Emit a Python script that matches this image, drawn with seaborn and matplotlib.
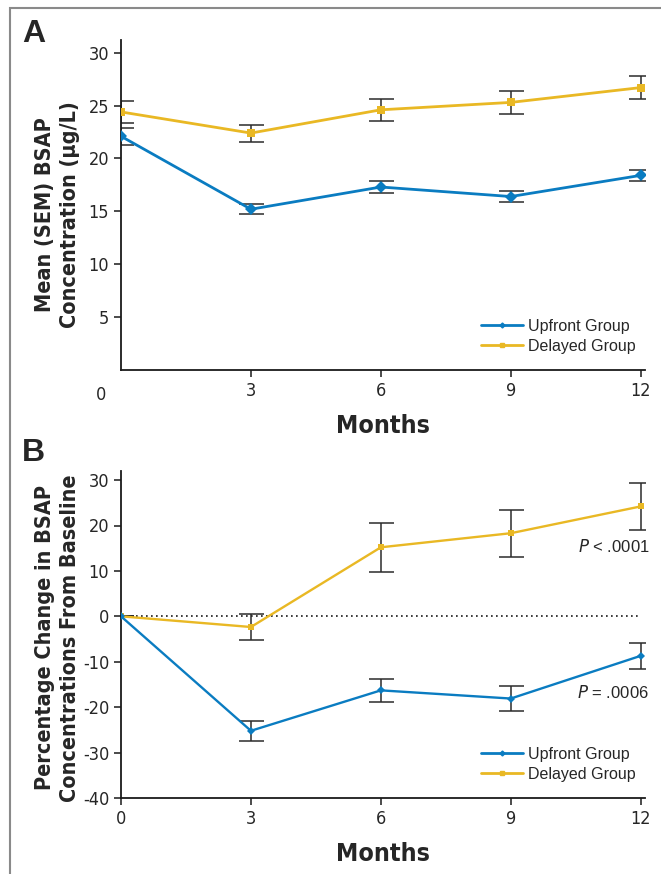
import numpy as np
import pandas as pd
import matplotlib
matplotlib.use("Agg")
import matplotlib.pyplot as plt
import seaborn as sns
from matplotlib import font_manager
from matplotlib.lines import Line2D
from matplotlib.patches import Rectangle

# data
months = [0, 3, 6, 9, 12]

a_upfront = [22.1, 15.2, 17.3, 16.4, 18.4]
a_upfront_sem = [0.8, 0.45, 0.55, 0.55, 0.5]
a_delayed = [24.4, 22.4, 24.6, 25.3, 26.7]
a_delayed_sem = [1.0, 0.8, 1.05, 1.05, 1.05]

b_upfront = [0, -25.2, -16.3, -18.1, -8.7]
b_upfront_sem = [0, 2.25, 2.5, 2.75, 2.9]
b_delayed = [0, -2.35, 15.2, 18.3, 24.2]
b_delayed_sem = [0, 2.95, 5.4, 5.2, 5.25]

group_names = ["Upfront Group", "Delayed Group"]

BLUE = "#0a7cc1"
YELLOW = "#e9b824"
ERR = "#2b2b2b"

sns.set_style("ticks")
plt.rcParams["font.family"] = ["Liberation Sans", "DejaVu Sans"]
plt.rcParams["axes.unicode_minus"] = False

# condensed face for ticks and axis titles
cond = font_manager.FontProperties(family="DejaVu Sans", stretch="condensed")
cond_b = font_manager.FontProperties(family="DejaVu Sans", stretch="condensed", weight="bold")

fig = plt.figure(figsize=(6.61, 8.74), dpi=100)
axA = fig.add_axes([121 / 661, 1 - 370 / 874, 524 / 661, 330 / 874])
axB = fig.add_axes([121 / 661, 1 - 798 / 874, 524 / 661, 327 / 874])

# frame round the figure
fig.patches.append(Rectangle((10 / 661, -0.1), 1.2, 1.1 - 8 / 874, transform=fig.transFigure,
                             fill=False, edgecolor="#8a8a8a", lw=1.5, zorder=0))


def style_ticks(ax):
    for lab in ax.get_xticklabels() + ax.get_yticklabels():
        lab.set_fontproperties(cond)
        lab.set_fontsize(13)


def draw_panel(ax, up, up_sem, de, de_sem, lw, ms_up, ms_de):
    df = pd.DataFrame({
        "month": months * 2,
        "value": up + de,
        "group": [group_names[0]] * 5 + [group_names[1]] * 5,
    })
    for vals, sem in [(de, de_sem), (up, up_sem)]:
        ax.errorbar(months, vals, yerr=sem, fmt="none", ecolor=ERR, elinewidth=1.1,
                    capsize=9, capthick=1.1, zorder=2)
    sns.lineplot(data=df[df.group == group_names[1]], x="month", y="value", ax=ax,
                 color=YELLOW, lw=lw, marker="s", markersize=ms_de, markeredgewidth=0,
                 legend=False, zorder=3)
    sns.lineplot(data=df[df.group == group_names[0]], x="month", y="value", ax=ax,
                 color=BLUE, lw=lw, marker="D", markersize=ms_up, markeredgewidth=0,
                 legend=False, zorder=4)
    for s in ["top", "right"]:
        ax.spines[s].set_visible(False)
    for s in ["left", "bottom"]:
        ax.spines[s].set_linewidth(1.3)
        ax.spines[s].set_color("#1a1a1a")
    ax.set_xlim(0, 12.1)
    ax.tick_params(axis="both", length=5, width=1.1, color="#1a1a1a")
    ax.set_xlabel("Months", fontproperties=cond_b, fontsize=18, labelpad=10)
    handles = [Line2D([], [], color=BLUE, lw=2, marker="D", markersize=2.5),
               Line2D([], [], color=YELLOW, lw=2, marker="s", markersize=3)]
    ax.legend(handles, group_names, loc="lower right", bbox_to_anchor=(1.0, 0.02), frameon=False,
              fontsize=11.5, handlelength=2.6, handletextpad=0.3, labelspacing=0.3,
              borderaxespad=0.2)


# panel A
draw_panel(axA, a_upfront, a_upfront_sem, a_delayed, a_delayed_sem, 2.0, 6.5, 5.5)
axA.set_ylim(0, 31.2)
axA.set_yticks([5, 10, 15, 20, 25, 30])
axA.set_xticks([3, 6, 9, 12])
style_ticks(axA)
zero = axA.text(-0.47, -1.5, "0", ha="center", va="top", clip_on=False, fontproperties=cond)
zero.set_fontsize(13)
axA.set_ylabel("Mean (SEM) BSAP\nConcentration (µg/L)", fontproperties=cond_b, fontsize=15.5,
               linespacing=1.3)
axA.yaxis.set_label_coords(-0.078, 0.47)

# panel B
draw_panel(axB, b_upfront, b_upfront_sem, b_delayed, b_delayed_sem, 1.7, 4, 4.5)
axB.axhline(0, color="#1a1a1a", lw=1.2, ls=(0, (1, 2)), xmax=12 / 12.1, zorder=1)
axB.set_ylim(-40, 32)
axB.set_yticks(np.arange(-40, 31, 10))
axB.set_xticks(months)
style_ticks(axB)
axB.set_ylabel("Percentage Change in BSAP\nConcentrations From Baseline", fontproperties=cond_b,
               fontsize=15.5, linespacing=1.3)
axB.yaxis.set_label_coords(-0.078, 0.49)
axB.text(12.2, 15.4, "$\\mathit{P}$ < .0001", ha="right", va="center", fontsize=12, clip_on=False)
axB.text(12.2, -16.8, "$\\mathit{P}$ = .0006", ha="right", va="center", fontsize=12, clip_on=False)

fig.text(22 / 661, 1 - 34 / 874, "A", fontsize=23, fontweight="bold", va="center")
fig.text(22 / 661, 1 - 453 / 874, "B", fontsize=23, fontweight="bold", va="center")

fig.savefig("out.png", dpi=100)
